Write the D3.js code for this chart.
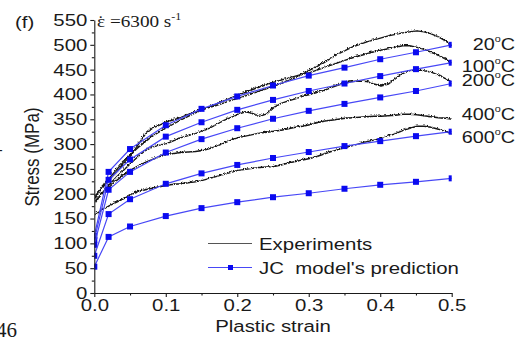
<!DOCTYPE html>
<html>
<head>
<meta charset="utf-8">
<script src="https://cdn.jsdelivr.net/npm/d3@7"></script>
<style>
  body { margin: 0; background: #fff; }
  svg { display: block; }
</style>
</head>
<body>
<div id="plot"></div>
<script>
// JC model points (blue squares)
const strainJC = [0, 0.02, 0.05, 0.1, 0.15, 0.2, 0.25, 0.3, 0.35, 0.4, 0.45, 0.5];
const jc1 = [115, 244, 290, 338, 371, 396, 418, 438, 454, 471, 485, 500];
const jc2 = [107, 228, 269, 315, 344, 369, 389, 407, 422, 437, 451, 464];
const jc3 = [97, 208, 244, 283, 310, 332, 351, 367, 381, 394, 407, 422];
const jc4 = [75, 159, 189, 220, 241, 258, 272, 284, 296, 306, 316, 325];
const jc5 = [53, 113, 134, 155, 171, 183, 193, 201, 210, 218, 224, 231];

// Experimental curves (black)
const strainExp = [0.00, 0.01, 0.02, 0.03, 0.04, 0.05, 0.06, 0.07, 0.08, 0.09,
  0.10, 0.11, 0.12, 0.13, 0.14, 0.15, 0.16, 0.17, 0.18, 0.19,
  0.20, 0.21, 0.22, 0.23, 0.24, 0.25, 0.26, 0.27, 0.28, 0.29,
  0.30, 0.31, 0.32, 0.33, 0.34, 0.35, 0.36, 0.37, 0.38, 0.39,
  0.40, 0.41, 0.42, 0.43, 0.44, 0.45, 0.46, 0.47, 0.48, 0.49, 0.50];
const exp20 = [198, 214, 231, 246, 262, 279, 301, 322, 334, 340,
  347, 351, 356, 362, 367, 372, 376, 380, 385, 390,
  394, 399, 404, 409, 414, 419, 424, 430, 436, 443,
  451, 458, 466, 475, 484, 491, 498, 503, 508, 512,
  516, 520, 523, 526, 528, 530, 528, 524, 518, 510, 500];
const exp100 = [193, 216, 234, 251, 267, 282, 295, 307, 318, 327,
  335, 343, 351, 358, 365, 371, 377, 383, 389, 395,
  401, 406, 412, 417, 422, 427, 431, 435, 439, 443,
  446, 451, 456, 461, 466, 471, 476, 480, 484, 488,
  491, 494, 497, 500, 500, 497, 493, 487, 481, 473, 464];
const exp200 = [184, 204, 221, 236, 250, 264, 277, 289, 296, 300,
  303, 309, 315, 319, 323, 328, 334, 342, 350, 356,
  362, 367, 364, 358, 363, 376, 384, 389, 393, 398,
  402, 406, 410, 416, 421, 425, 428, 429, 428, 423,
  419, 423, 434, 444, 450, 451, 450, 447, 441, 434, 426];
const exp400 = [188, 203, 216, 229, 240, 250, 258, 265, 271, 277,
  281, 283, 285, 286, 287, 289, 293, 298, 304, 310,
  315, 318, 321, 324, 326, 328, 330, 333, 336, 338,
  341, 345, 348, 350, 352, 354, 355, 356, 357, 358,
  358, 359, 360, 362, 362, 361, 359, 357, 355, 354, 352];
const exp600 = [160, 170, 178, 185, 192, 200, 206, 210, 213, 216,
  219, 221, 222, 224, 226, 229, 233, 237, 241, 245,
  249, 251, 253, 255, 256, 257, 260, 264, 267, 270,
  273, 277, 282, 287, 291, 295, 299, 303, 307, 310,
  313, 318, 323, 329, 334, 338, 338, 336, 332, 327, 322];

const xTicks = [0.0, 0.1, 0.2, 0.3, 0.4, 0.5];
const xMinor = [0.05, 0.15, 0.25, 0.35, 0.45];
const yTicks = [0, 50, 100, 150, 200, 250, 300, 350, 400, 450, 500, 550];
const yMinor = [25, 75, 125, 175, 225, 275, 325, 375, 425, 475, 525];

const tempLabels = ["20", "100", "200", "400", "600"];
const tempBaselines = [50, 72, 86, 120, 143];

const w = 527, h = 351;
const sx = 1.2;  // the picture is stretched sideways, text too
const font = "'Liberation Sans', Arial, sans-serif";
const serif = "'Liberation Serif', 'Times New Roman', serif";
const ink = "#1a1a1a";

const x = d3.scaleLinear().domain([0, 0.5]).range([94.3, 451.7]);
const y = d3.scaleLinear().domain([0, 550]).range([293, 20]);

const svg = d3.select("#plot").append("svg")
  .attr("width", w)
  .attr("height", h);

// jagged look for the measured curves
const defs = svg.append("defs");
const f = defs.append("filter").attr("id", "noisy")
  .attr("x", "-5%").attr("y", "-5%").attr("width", "110%").attr("height", "110%");
f.append("feTurbulence").attr("type", "turbulence").attr("baseFrequency", 0.7)
  .attr("numOctaves", 1).attr("seed", 3).attr("result", "t");
f.append("feDisplacementMap").attr("in", "SourceGraphic").attr("in2", "t")
  .attr("scale", 2.2).attr("xChannelSelector", "R").attr("yChannelSelector", "G");

defs.append("clipPath").attr("id", "clip")
  .append("rect")
  .attr("x", x(0)).attr("y", y(550) - 2)
  .attr("width", x(0.5) - x(0)).attr("height", y(0) - y(550) + 2);

function stretch(sel) {
  sel.attr("transform", `scale(${sx},1)`)
    .attr("x", function () { return (+this.getAttribute("x") || 0) / sx; });
}

const plot = svg.append("g").attr("clip-path", "url(#clip)");

// experiments
const line = d3.line().x(d => x(d[0])).y(d => y(d[1]));
[exp20, exp100, exp200, exp400, exp600].forEach(s => {
  plot.append("path")
    .attr("d", line(strainExp.map((e, i) => [e, s[i]])))
    .attr("fill", "none")
    .attr("stroke", "#151515")
    .attr("stroke-width", 1.4)
    .attr("filter", "url(#noisy)");
});

// JC model
[jc1, jc2, jc3, jc4, jc5].forEach(s => {
  const pts = strainJC.map((e, i) => [e, s[i]]);
  plot.append("path")
    .attr("d", line(pts))
    .attr("fill", "none")
    .attr("stroke", "#4848f6")
    .attr("stroke-width", 1.2);
  plot.selectAll(null).data(pts).enter().append("rect")
    .attr("x", d => x(d[0]) - 3)
    .attr("y", d => y(d[1]) - 3)
    .attr("width", 6)
    .attr("height", 6)
    .attr("fill", "#0a0af0");
});

// axes
const gx = svg.append("g").attr("transform", `translate(0,${y(0)})`)
  .call(d3.axisBottom(x).tickValues(xTicks).tickFormat(d3.format(".1f")).tickSize(4).tickPadding(2).tickSizeOuter(0));
svg.append("g").attr("transform", `translate(0,${y(0)})`)
  .call(d3.axisBottom(x).tickValues(xMinor).tickFormat("").tickSize(2.5).tickSizeOuter(0))
  .select(".domain").remove();
const gy = svg.append("g").attr("transform", `translate(${x(0)},0)`)
  .call(d3.axisLeft(y).tickValues(yTicks).tickSize(4).tickPadding(3).tickSizeOuter(0));
svg.append("g").attr("transform", `translate(${x(0)},0)`)
  .call(d3.axisLeft(y).tickValues(yMinor).tickFormat("").tickSize(2.5).tickSizeOuter(0))
  .select(".domain").remove();

svg.selectAll(".domain, .tick line").attr("stroke", ink).attr("stroke-width", 1.1);
[gx, gy].forEach(g => {
  g.selectAll("text")
    .style("font-family", font)
    .style("font-size", "17px")
    .attr("fill", ink)
    .call(stretch);
});

// axis titles
svg.append("text")
  .attr("x", 273).attr("y", 332)
  .attr("text-anchor", "middle")
  .style("font-family", font).style("font-size", "17px").attr("fill", ink)
  .text("Plastic strain")
  .call(stretch);

svg.append("text")
  .attr("transform", "translate(39,157) rotate(-90) scale(1,1.2)")
  .attr("text-anchor", "middle")
  .style("font-family", font).style("font-size", "17px").attr("fill", ink)
  .text("Stress (MPa)");

// panel letter and strain rate
svg.append("text")
  .attr("x", 15).attr("y", 28)
  .style("font-family", font).style("font-size", "17px").attr("fill", ink)
  .text("(f)")
  .call(stretch);

const rate = svg.append("text")
  .attr("x", 97).attr("y", 27)
  .style("font-family", serif).style("font-size", "16px").attr("fill", ink)
  .call(stretch);
rate.append("tspan").text("\u03b5");
rate.append("tspan").attr("dx", -6.3).text("\u02d9");
rate.append("tspan").attr("dx", 1).text(" =6300 s");
rate.append("tspan").attr("dy", -7).style("font-size", "10px").text("-1");

// temperature labels
tempLabels.forEach((t, i) => {
  const lab = svg.append("text")
    .attr("x", 515).attr("y", tempBaselines[i])
    .attr("text-anchor", "end")
    .style("font-family", font).style("font-size", "16.5px").attr("fill", ink)
    .call(stretch);
  lab.append("tspan").text(t);
  lab.append("tspan").attr("dy", -8).style("font-size", "9px").text("o");
  lab.append("tspan").attr("dy", 8).text("C");
});

// legend
svg.append("line")
  .attr("x1", 208).attr("x2", 252).attr("y1", 243.5).attr("y2", 243.5)
  .attr("stroke", "#555").attr("stroke-width", 1.1);
svg.append("line")
  .attr("x1", 208).attr("x2", 252).attr("y1", 267.5).attr("y2", 267.5)
  .attr("stroke", "#4848f6").attr("stroke-width", 1.2);
svg.append("rect")
  .attr("x", 228).attr("y", 265).attr("width", 5).attr("height", 5)
  .attr("fill", "#0a0af0");
svg.append("text")
  .attr("x", 259).attr("y", 250)
  .style("font-family", font).style("font-size", "17px").attr("fill", ink)
  .text("Experiments")
  .call(stretch);
svg.append("text")
  .attr("x", 259).attr("y", 274)
  .style("font-family", font).style("font-size", "17px").attr("fill", ink)
  .style("white-space", "pre")
  .text("JC  model's prediction")
  .call(stretch);

// page fragments at the left edge
svg.append("text")
  .attr("x", -4).attr("y", 337)
  .style("font-family", serif).style("font-size", "21px").attr("fill", ink)
  .text("46");
svg.append("text")
  .attr("x", -2).attr("y", 155)
  .style("font-family", font).style("font-size", "14px").attr("fill", ink)
  .text("-");
</script>
</body>
</html>
